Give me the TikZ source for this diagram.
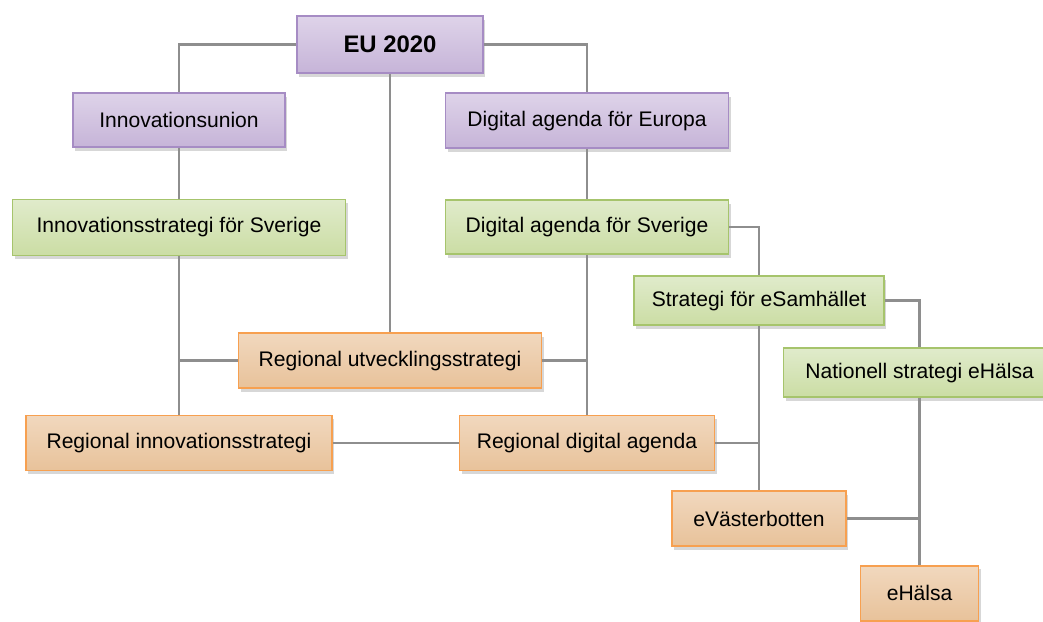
\documentclass[tikz,border=0pt]{standalone}
\usepackage{fontspec}
\setmainfont{Liberation Sans}
\usepackage{tikz}
\usetikzlibrary{shadows}

\definecolor{lilakant}{HTML}{A68CC4}
\definecolor{lilaupp}{HTML}{DED3E9}
\definecolor{lilaner}{HTML}{C6B4D8}
\definecolor{gronkant}{HTML}{A6C46C}
\definecolor{gronupp}{HTML}{E0EBCB}
\definecolor{gronner}{HTML}{CBDDA4}
\definecolor{orangekant}{HTML}{F7A050}
\definecolor{orangeupp}{HTML}{F1D8BE}
\definecolor{orangener}{HTML}{E8C29A}
\definecolor{linjegra}{HTML}{8E8E8E}

\tikzset{
  boks/.style={draw, line width=1.1pt, inner sep=0pt, font=\fontsize{15}{18}\selectfont,
    drop shadow={shadow xshift=1.5pt, shadow yshift=-2.5pt, fill=black!35, opacity=.45}},
  eunivå/.style={boks, draw=lilakant, top color=lilaupp, bottom color=lilaner},
  natnivå/.style={boks, draw=gronkant, top color=gronupp, bottom color=gronner},
  regnivå/.style={boks, draw=orangekant, top color=orangeupp, bottom color=orangener},
  linje/.style={draw=linjegra, line width=1.7pt}
}

\begin{document}
\begin{tikzpicture}
  \useasboundingbox (0, 0) rectangle (26.075, 15.525);

  \node [eunivå, minimum width=4.65cm, minimum height=1.425cm, font=\fontsize{17}{20}\selectfont\bfseries] (eu) at (9.75, 14.41) {EU 2020};
  \node [eunivå, minimum width=5.3cm, minimum height=1.35cm] (iu) at (4.475, 12.525) {Innovationsunion};
  \node [eunivå, minimum width=7.075cm, minimum height=1.375cm] (dae) at (14.675, 12.51) {Digital agenda för Europa};

  \node [natnivå, minimum width=8.325cm, minimum height=1.4cm] (isv) at (4.475, 9.84) {Innovationsstrategi för Sverige};
  \node [natnivå, minimum width=7.075cm, minimum height=1.35cm] (das) at (14.675, 9.85) {Digital agenda för Sverige};
  \node [natnivå, minimum width=6.25cm, minimum height=1.225cm] (sfe) at (18.975, 8.01) {Strategi för eSamhället};
  \node [natnivå, minimum width=6.8cm, minimum height=1.225cm] (nse) at (22.99, 6.21) {Nationell strategi eHälsa};

  \node [regnivå, minimum width=7.575cm, minimum height=1.375cm] (rus) at (9.75, 6.51) {Regional utvecklingsstrategi};
  \node [regnivå, minimum width=7.65cm, minimum height=1.375cm] (ris) at (4.475, 4.45) {Regional innovationsstrategi};
  \node [regnivå, minimum width=6.375cm, minimum height=1.375cm] (rda) at (14.675, 4.45) {Regional digital agenda};
  \node [regnivå, minimum width=4.35cm, minimum height=1.375cm] (evb) at (18.975, 2.56) {eVästerbotten};
  \node [regnivå, minimum width=2.95cm, minimum height=1.375cm] (eha) at (22.99, 0.69) {eHälsa};

  \draw [linje] (eu) -| (iu);
  \draw [linje] (eu) -| (dae);
  \draw [linje] (eu) -- (rus);
  \draw [linje] (iu) -- (isv);
  \draw [linje] (dae) -- (das);
  \draw [linje] (isv) -- (ris);
  \draw [linje] (rus) -| (ris);
  \draw [linje] (rus) -| (rda);
  \draw [linje] (das) -- (rda);
  \draw [linje] (ris) -- (rda);
  \draw [linje] (das) -| (sfe);
  \draw [linje] (sfe) -| (nse);
  \draw [linje] (sfe) -- (evb);
  \draw [linje] (rda) -| (evb);
  \draw [linje] (nse) -- (eha);
  \draw [linje] (evb) -| (eha);
\end{tikzpicture}
\end{document}
